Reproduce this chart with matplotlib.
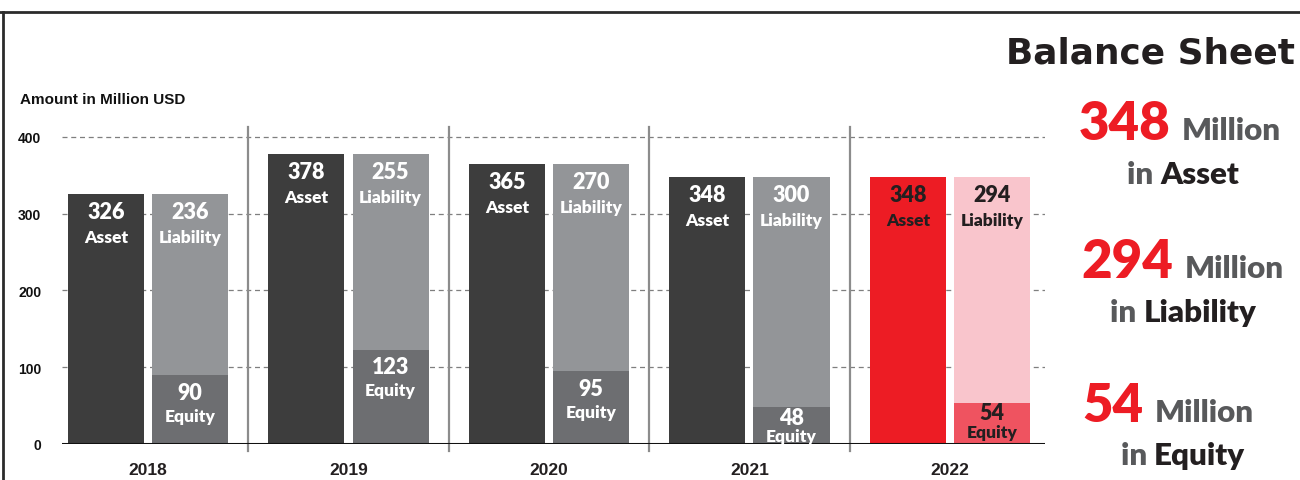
import matplotlib
matplotlib.use("Agg")
import matplotlib.pyplot as plt
from matplotlib.lines import Line2D

years = ["2018", "2019", "2020", "2021", "2022"]
asset = [326, 378, 365, 348, 348]
liability = [236, 255, 270, 300, 294]
equity = [90, 123, 95, 48, 54]

# colours: normal years / highlighted last year
c_asset = ["#3d3d3d"] * 4 + ["#ed1c24"]
c_liab = ["#939598"] * 4 + ["#f9c5cc"]
c_eq = ["#6d6e71"] * 4 + ["#ef5360"]
c_txt = ["white"] * 4 + ["#231f20"]

W, H = 1300, 481
fig = plt.figure(figsize=(13, 4.81), dpi=100)
lab_font = "Lato"
tick_font = "Liberation Sans"

# axes placed in pixel terms
ax_l, ax_r, ax_b, ax_t = 62, 1045, 445, 128
ax = fig.add_axes([ax_l / W, (H - ax_b) / H, (ax_r - ax_l) / W, (ax_b - ax_t) / H])
ax.set_xlim(-0.429, 4.474)
ax.set_ylim(0, 413)
for s in ax.spines.values():
    s.set_visible(False)

# dashed grid
for g in [100, 200, 300, 400]:
    ax.axhline(g, color="#7f7f7f", lw=0.9, ls=(0, (4, 3)), zorder=0)
ax.axhline(0, color="#111111", lw=2.2, zorder=3)

# separators between years
for k in range(len(years) - 1):
    ax.add_line(Line2D([k + 0.5, k + 0.5], [-9, 413], color="#8c8c8c", lw=1.6,
                       clip_on=False, zorder=1))

xs = range(len(years))
off, bw = 0.21, 0.38
xa = [x - off for x in xs]
xl = [x + off for x in xs]
ax.bar(xa, asset, bw, color=c_asset, zorder=2)
ax.bar(xl, equity, bw, color=c_eq, zorder=2)
ax.bar(xl, liability, bw, bottom=equity, color=c_liab, zorder=2)


def label(x, top, num, word, col, d1, d2, fs1=15.5, fs2=12.5):
    ax.annotate(str(num), (x, top), xytext=(0, -d1), textcoords="offset points",
                ha="center", va="baseline", color=col, fontsize=fs1,
                fontweight="heavy", family=lab_font, zorder=4)
    ax.annotate(word, (x, top), xytext=(0, -d2), textcoords="offset points",
                ha="center", va="baseline", color=col, fontsize=fs2,
                fontweight="heavy", family=lab_font, zorder=4)


for i in xs:
    label(xa[i], asset[i], asset[i], "Asset", c_txt[i], 17.3, 34.6)
    label(xl[i], asset[i], liability[i], "Liability", c_txt[i], 17.3, 34.6)
    if equity[i] < 60:
        label(xl[i], equity[i], equity[i], "Equity", c_txt[i], 12, 24.5)
    else:
        label(xl[i], equity[i], equity[i], "Equity", c_txt[i], 17, 33)

ax.set_yticks([0, 100, 200, 300, 400])
ax.set_yticklabels(["0", "100", "200", "300", "400"], fontsize=10,
                   fontweight="bold", family=tick_font, color="#111111")
ax.set_xticks(list(xs))
ax.set_xticklabels(years, fontsize=12.5, fontweight="bold", family=tick_font,
                   color="#231f20")
ax.tick_params(axis="y", length=0, pad=15)
ax.tick_params(axis="x", length=0, pad=13)

fig.text(20 / W, 1 - 100 / H, "Amount in Million USD", fontsize=11, fontweight="bold",
         family=tick_font, color="#111111", va="center", ha="left")

# frame lines
fig.add_artist(Line2D([0, 1], [1 - 13 / H, 1 - 13 / H], color="#2b2b2b", lw=2,
                      transform=fig.transFigure))
fig.add_artist(Line2D([3 / W, 3 / W], [0, 1 - 13 / H], color="#2b2b2b", lw=2,
                      transform=fig.transFigure))

fig.text(1295 / W, 1 - 63 / H, "Balance Sheet", fontsize=25.8, fontweight="bold",
         family="DejaVu Sans", color="#231f20", ha="right", va="baseline")

# side summary
red, grey, dark = "#ed1c24", "#58595b", "#231f20"
side = [
    (asset[-1], "Asset", 1170, 140, 184),
    (liability[-1], "Liability", 1173, 278, 322),
    (equity[-1], "Equity", 1143, 422, 465),
]
for val, name, xr, yb1, yb2 in side:
    fig.text(xr / W, 1 - yb1 / H, str(val), fontsize=38, fontweight="heavy",
             family=lab_font, color=red, ha="right", va="baseline")
    fig.text((xr + 12) / W, 1 - yb1 / H, "Million", fontsize=22.5, fontweight="heavy",
             family=lab_font, color=grey, ha="left", va="baseline")
    t = fig.text(1183 / W, 1 - yb2 / H, "in " + name, fontsize=22.5, fontweight="heavy",
                 family=lab_font, color=dark, ha="center", va="baseline", alpha=0)
    fig.canvas.draw()
    bb = t.get_window_extent()
    x0 = bb.x0
    t1 = fig.text(x0 / W, 1 - yb2 / H, "in ", fontsize=22.5, fontweight="heavy",
                  family=lab_font, color=grey, ha="left", va="baseline")
    bb1 = t1.get_window_extent()
    fig.text(bb1.x1 / W, 1 - yb2 / H, name, fontsize=22.5, fontweight="heavy",
             family=lab_font, color=dark, ha="left", va="baseline")

fig.savefig("out.png", dpi=100)
